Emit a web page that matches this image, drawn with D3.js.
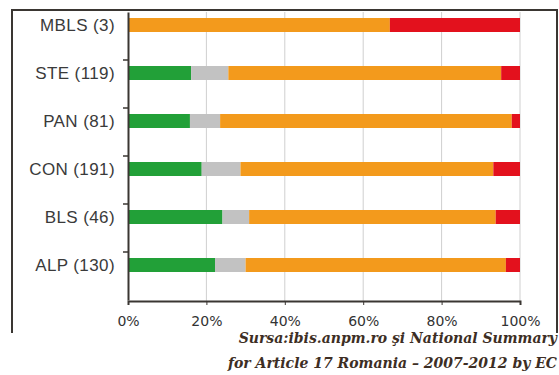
<!DOCTYPE html>
<html><head><meta charset="utf-8">
<script src="https://cdn.jsdelivr.net/npm/d3@7"></script>
<style>body{margin:0;background:#fff}svg{display:block}</style>
</head><body>
<svg id="c" width="559" height="375"></svg>
<script>
const categories = ["MBLS (3)","STE (119)","PAN (81)","CON (191)","BLS (46)","ALP (130)"];
const seriesNames = ["favourable","unknown","inadequate","bad"];
const favourable = [0, 16.1, 15.8, 18.8, 24.1, 22.2];
const unknown    = [0, 9.5, 7.7, 9.9, 6.8, 7.8];
const inadequate = [66.8, 69.6, 74.4, 64.5, 62.9, 66.4];
const bad        = [33.2, 4.8, 2.1, 6.8, 6.2, 3.6];
const xTicks = [0,20,40,60,80,100];
const colors = ["#22a038","#c2c2c2","#f39a1c","#e3111d"];

const svg = d3.select("#c");
const m = {l:128, r:39, t:12, b:75};
const W = 559, H = 375;
const x = d3.scaleLinear().domain([0,100]).range([m.l, W-m.r]);
const y = d3.scaleBand().domain(categories).range([m.t, 300]).paddingInner(0).paddingOuter(0);

// outer frame
svg.append("path").attr("d","M12,333 V10 H557 V333").attr("fill","none").attr("stroke","#3a3632").attr("stroke-width",2);

// gridlines
svg.append("g").selectAll("line").data(xTicks.slice(1)).join("line")
  .attr("x1",d=>x(d)).attr("x2",d=>x(d)).attr("y1",m.t).attr("y2",301)
  .attr("stroke","#cfcfcf").attr("stroke-width",1);

const rows = categories.map((c,i)=>({c, vals:[favourable[i],unknown[i],inadequate[i],bad[i]]}));
const stack = [];
rows.forEach(r=>{let acc=0; r.vals.forEach((v,k)=>{stack.push({c:r.c,k,x0:acc,x1:acc+v}); acc+=v;});});
const barH = 14, off = 6;
svg.append("g").selectAll("rect").data(stack.filter(d=>d.x1>d.x0)).join("rect")
  .attr("x",d=>x(d.x0)).attr("width",d=>x(d.x1)-x(d.x0))
  .attr("y",d=>y(d.c)+off).attr("height",barH)
  .attr("fill",d=>colors[d.k]);

// axes
const xa = svg.append("g").attr("transform","translate(0,301)")
  .call(d3.axisBottom(x).tickValues(xTicks).tickFormat(d=>d+"%").tickSize(4).tickPadding(11));
xa.select(".domain").attr("stroke","#3a3632").attr("stroke-width",2);
xa.selectAll(".tick line").attr("stroke","#3a3632");
xa.selectAll("text").attr("font-family","DejaVu Sans").attr("font-size",14).attr("fill","#333");

const ya = svg.append("g").attr("transform",`translate(${m.l},0)`)
  .call(d3.axisLeft(y).tickSize(0).tickPadding(13));
ya.select(".domain").attr("stroke","#3a3632").attr("stroke-width",2);
ya.selectAll(".tick").attr("transform",d=>`translate(0,${y(d)+off+barH/2})`);
ya.selectAll("text").attr("font-family","Liberation Sans").attr("font-size",17)
  .attr("letter-spacing",0.4).attr("fill","#3a3a3a").attr("dy","0.34em");
// boundary ticks
svg.append("g").selectAll("line").data(categories.slice(1)).join("line")
  .attr("x1",m.l-5).attr("x2",m.l).attr("y1",d=>y(d)).attr("y2",d=>y(d))
  .attr("stroke","#3a3632").attr("stroke-width",1.5);

// source
const src = svg.append("g").attr("font-family","DejaVu Serif").attr("font-style","italic")
  .attr("font-weight","bold").attr("font-size",14).attr("fill","#3d2e24").attr("text-anchor","end");
src.append("text").attr("x",557).attr("y",343).text("Sursa:ibis.anpm.ro şi National Summary");
src.append("text").attr("x",557).attr("y",368).text("for Article 17 Romania – 2007-2012 by EC");
</script>
</body></html>
